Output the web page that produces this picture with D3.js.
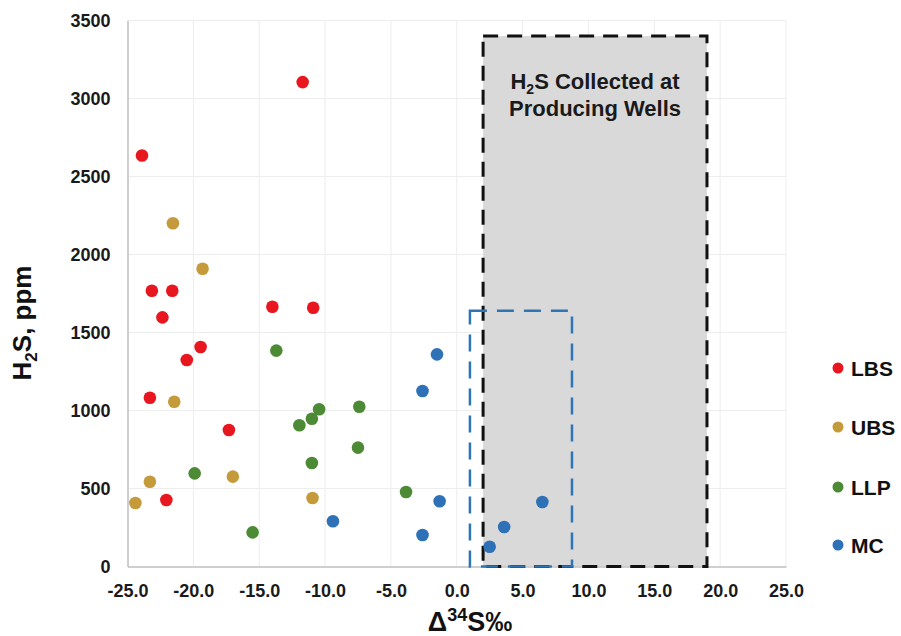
<!DOCTYPE html>
<html>
<head>
<meta charset="utf-8">
<script src="https://cdn.jsdelivr.net/npm/d3@7/dist/d3.min.js"></script>
<style>
  html, body { margin: 0; padding: 0; background: #ffffff; }
  svg { display: block; font-family: "Liberation Sans", Arial, sans-serif; }
</style>
</head>
<body>
<svg id="chart" width="901" height="636"></svg>
<script>
// Sulfur isotope (Δ34S) vs H2S concentration, by source unit
const seriesNames = ["LBS", "UBS", "LLP", "MC"];
const seriesColors = ["#e8161e", "#c49a3a", "#4d8a36", "#2e71b6"];

const lbsX = [-11.7, -23.9, -23.15, -21.6, -22.35, -14.0, -10.9, -19.45, -20.5, -23.3, -17.3, -22.05];
const lbsY = [3105, 2635, 1768, 1768, 1597, 1665, 1659, 1407, 1324, 1082, 875, 426];

const ubsX = [-21.55, -19.3, -21.45, -23.3, -24.4, -17.0, -10.95];
const ubsY = [2200, 1909, 1056, 543, 407, 576, 439];

const llpX = [-13.7, -10.45, -11.0, -11.95, -7.4, -7.5, -11.0, -19.9, -15.5, -3.85];
const llpY = [1384, 1008, 947, 905, 1024, 762, 663, 597, 219, 478];

const mcX = [-1.5, -2.6, -9.4, -2.6, -1.3, 6.5, 3.6, 2.5];
const mcY = [1360, 1125, 290, 202, 418, 413, 253, 127];

const xTicks = [-25, -20, -15, -10, -5, 0, 5, 10, 15, 20, 25];
const yTicks = [0, 500, 1000, 1500, 2000, 2500, 3000, 3500];

// Shaded field of producing-well samples and the MC cluster outline
const wellBox = { x0: 2, x1: 19, y0: 0, y1: 3400 };
const mcBox = { x0: 1, x1: 8.75, y0: 0, y1: 1640 };

const svg = d3.select("#chart");
const margin = { left: 127.5, right: 115, top: 20.5, bottom: 69.5 };
const W = 901, H = 636;

const x = d3.scaleLinear().domain([-25, 25]).range([margin.left, W - margin.right]);
const y = d3.scaleLinear().domain([0, 3500]).range([H - margin.bottom, margin.top]);

// Gridlines
const grid = svg.append("g");
grid.selectAll("line.v").data(xTicks.slice(1)).enter().append("line")
  .attr("x1", d => x(d)).attr("x2", d => x(d))
  .attr("y1", y(0)).attr("y2", y(3500))
  .attr("stroke", "#ededed").attr("stroke-width", 1);
grid.selectAll("line.h").data(yTicks.slice(1)).enter().append("line")
  .attr("x1", x(-25)).attr("x2", x(25))
  .attr("y1", d => y(d)).attr("y2", d => y(d))
  .attr("stroke", "#ededed").attr("stroke-width", 1);

// Producing wells region
svg.append("rect")
  .attr("x", x(wellBox.x0)).attr("y", y(wellBox.y1))
  .attr("width", x(wellBox.x1) - x(wellBox.x0))
  .attr("height", y(wellBox.y0) - y(wellBox.y1))
  .attr("fill", "#d9d9d9");

// Axes (plain hyphen for negatives)
const fmt1 = v => d3.format(".1f")(v).replace("\u2212", "-");
const xAxis = d3.axisBottom(x).tickValues(xTicks).tickSize(0).tickFormat(fmt1);
const yAxis = d3.axisLeft(y).tickValues(yTicks).tickSize(0).tickFormat(d => d);

const gx = svg.append("g").attr("transform", `translate(0,${y(0)})`).call(xAxis);
gx.select(".domain").attr("stroke", "#bfbfbf").attr("stroke-width", 1.5);
gx.selectAll("text").attr("dy", "0").attr("y", 30)
  .attr("font-size", 18).attr("font-weight", "bold").attr("fill", "#1a1a1a")
  .attr("font-family", "Liberation Sans, Arial, sans-serif");

const gy = svg.append("g").attr("transform", `translate(${x(-25)},0)`).call(yAxis);
gy.select(".domain").attr("stroke", "#bfbfbf").attr("stroke-width", 1.5);
gy.selectAll("text").attr("x", -17).attr("dy", "0.35em")
  .attr("font-size", 18).attr("font-weight", "bold").attr("fill", "#1a1a1a")
  .attr("font-family", "Liberation Sans, Arial, sans-serif");

// Dashed outlines
svg.append("rect")
  .attr("x", x(wellBox.x0)).attr("y", y(wellBox.y1))
  .attr("width", x(wellBox.x1) - x(wellBox.x0))
  .attr("height", y(wellBox.y0) - y(wellBox.y1))
  .attr("fill", "none").attr("stroke", "#111").attr("stroke-width", 3)
  .attr("stroke-dasharray", "15,9");

svg.append("rect")
  .attr("x", x(mcBox.x0)).attr("y", y(mcBox.y1))
  .attr("width", x(mcBox.x1) - x(mcBox.x0))
  .attr("height", y(mcBox.y0) - y(mcBox.y1))
  .attr("fill", "none").attr("stroke", "#2e75b6").attr("stroke-width", 2.5)
  .attr("stroke-dasharray", "17,10");

// Region label
const cx = (x(wellBox.x0) + x(wellBox.x1)) / 2;
const lab = svg.append("text").attr("text-anchor", "middle")
  .attr("font-size", 22).attr("font-weight", "bold").attr("fill", "#1a1a1a");
const l1 = lab.append("tspan").attr("x", cx).attr("y", 89);
l1.append("tspan").text("H");
l1.append("tspan").text("2").attr("font-size", 14).attr("dy", 5);
l1.append("tspan").text("S Collected at").attr("dy", -5);
lab.append("tspan").attr("x", cx).attr("y", 116).text("Producing Wells");

// Points
const series = [
  { xs: lbsX, ys: lbsY },
  { xs: ubsX, ys: ubsY },
  { xs: llpX, ys: llpY },
  { xs: mcX, ys: mcY }
];
series.forEach((s, i) => {
  const pts = s.xs.map((v, j) => [v, s.ys[j]]);
  svg.append("g").selectAll("circle").data(pts).enter().append("circle")
    .attr("cx", d => x(d[0])).attr("cy", d => y(d[1]))
    .attr("r", 6.3)
    .attr("fill", seriesColors[i]);
});

// Axis titles
const yt = svg.append("text")
  .attr("transform", `translate(31,323) rotate(-90)`)
  .attr("text-anchor", "middle").attr("font-size", 26).attr("font-weight", "bold").attr("fill", "#111");
yt.append("tspan").text("H");
yt.append("tspan").text("2").attr("font-size", 17).attr("dy", 6);
yt.append("tspan").text("S, ppm").attr("dy", -6);

const xt = svg.append("text")
  .attr("x", 470).attr("y", 631)
  .attr("text-anchor", "middle").attr("font-size", 27).attr("font-weight", "bold").attr("fill", "#111");
xt.append("tspan").text("Δ");
xt.append("tspan").text("34").attr("font-size", 18).attr("dy", -10);
xt.append("tspan").text("S‰").attr("dy", 10);

// Legend
const legY = [368, 427, 487, 545];
const leg = svg.append("g");
seriesNames.forEach((n, i) => {
  leg.append("circle").attr("cx", 838).attr("cy", legY[i]).attr("r", 5.5).attr("fill", seriesColors[i]);
  leg.append("text").attr("x", 851).attr("y", legY[i]).attr("dy", "0.36em")
    .attr("font-size", 21).attr("font-weight", "bold").attr("fill", "#111").text(n);
});
</script>
</body>
</html>
